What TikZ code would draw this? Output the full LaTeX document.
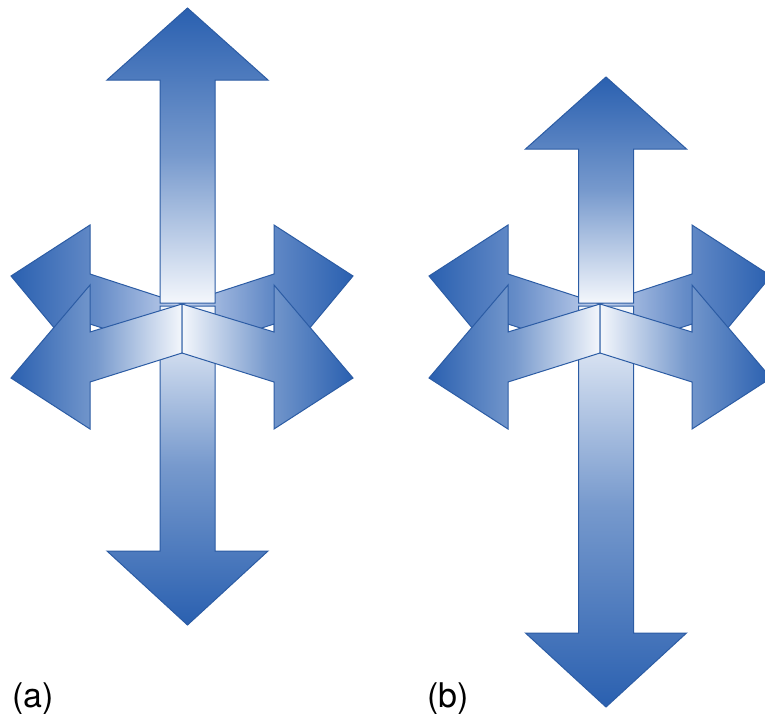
\documentclass[tikz,border=0pt]{standalone}
\usepackage{fontspec}
\setmainfont{TeX Gyre Heros}
\definecolor{adark}{RGB}{42,96,176}
\definecolor{alight}{RGB}{244,247,252}
\definecolor{aback}{RGB}{196,210,237}
\definecolor{aline}{RGB}{44,92,164}
\tikzset{
  arrowpiece/.style={draw=aline, line width=1pt, line join=miter},
  leftback/.style={arrowpiece, left color=adark, right color=aback, middle color=adark!62!aback},
  rightback/.style={arrowpiece, left color=aback, right color=adark, middle color=adark!62!aback},
  leftfront/.style={arrowpiece, left color=adark, right color=alight, middle color=adark!62!alight},
  rightfront/.style={arrowpiece, left color=alight, right color=adark, middle color=adark!62!alight},
  upstyle/.style={arrowpiece, top color=adark, bottom color=alight, middle color=adark!62!alight},
  downstyle/.style={arrowpiece, top color=alight, bottom color=adark, middle color=adark!62!alight},
  labeltext/.style={anchor=base west, inner sep=0pt, font=\fontsize{34}{40}\selectfont},
  backpair/.pic={
    \draw[leftback] (-171,-28) -- (-92,-79) -- (-92,-30) -- (0,0) -- (0,50) -- (-92,20) -- (-92,67) -- cycle;
    \draw[rightback] (171,-28) -- (92,-79) -- (92,-30) -- (0,0) -- (0,50) -- (92,20) -- (92,67) -- cycle;
  },
  frontpair/.pic={
    \draw[leftfront] (-171,74) -- (-92,-19) -- (-92,28) -- (0,0) -- (0,49) -- (-92,78) -- (-92,125) -- cycle;
    \draw[rightfront] (171,74) -- (92,-19) -- (92,28) -- (0,0) -- (0,49) -- (92,78) -- (92,125) -- cycle;
  }
}
\begin{document}
\begin{tikzpicture}[x=1pt,y=-1pt]
\useasboundingbox (0,0) rectangle (765,713);
\clip (0,0) rectangle (765,713);
\fill[white] (0,0) rectangle (765,713);
% (a)
\pic at (182,304) {backpair};
\draw[downstyle] (160,306) -- (215,306) -- (215,551) -- (268,551) -- (187.5,625) -- (107,551) -- (160,551) -- cycle;
\draw[upstyle] (187.5,8) -- (268,80) -- (215,80) -- (215,303) -- (160,303) -- (160,80) -- (107,80) -- cycle;
\pic at (182,304) {frontpair};
% (b)
\pic at (600,304) {backpair};
\draw[downstyle] (578.5,306) -- (633.5,306) -- (633.5,633) -- (686.5,633) -- (606,707) -- (525.5,633) -- (578.5,633) -- cycle;
\draw[upstyle] (606,77) -- (686.5,149) -- (633.5,149) -- (633.5,303) -- (578.5,303) -- (578.5,149) -- (525.5,149) -- cycle;
\pic at (600,304) {frontpair};
% labels
\node[labeltext] (la) at (12,707) {(a)};
\node[labeltext] (lb) at (427,707) {(b)};
\end{tikzpicture}
\end{document}
